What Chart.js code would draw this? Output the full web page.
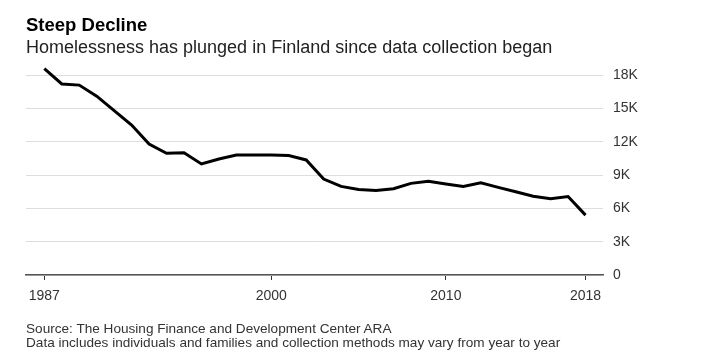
<!DOCTYPE html>
<html>
<head>
<meta charset="utf-8">
<script src="https://cdn.jsdelivr.net/npm/chart.js@4"></script>
<style>
  html, body { margin: 0; padding: 0; background: #fff; }
  body { width: 716px; height: 363px; position: relative; overflow: hidden; font-family: "Liberation Sans", Arial, sans-serif; }
  .t { position: absolute; left: 26px; white-space: nowrap; line-height: 1; }
  #title { top: 16px; font-size: 18.5px; font-weight: bold; color: #000; }
  #subtitle { top: 37.5px; font-size: 18px; color: #222; }
  #src1 { top: 322px; font-size: 13.6px; color: #333; }
  #src2 { top: 336px; font-size: 13.6px; color: #333; }
  #wrap { position: absolute; left: 0; top: 0; width: 716px; height: 363px; }
</style>
</head>
<body>
<div id="wrap"><canvas id="c" width="716" height="363"></canvas></div>
<div class="t" id="title">Steep Decline</div>
<div class="t" id="subtitle">Homelessness has plunged in Finland since data collection began</div>
<div class="t" id="src1">Source: The Housing Finance and Development Center ARA</div>
<div class="t" id="src2">Data includes individuals and families and collection methods may vary from year to year</div>
<script>
const years = [1987,1988,1989,1990,1991,1992,1993,1994,1995,1996,1997,1998,1999,2000,2001,2002,2003,2004,2005,2006,2007,2008,2009,2010,2011,2012,2013,2014,2015,2016,2017,2018];
const homeless = [18580,17200,17100,16100,14800,13500,11800,10960,11000,10000,10450,10800,10800,10800,10750,10360,8640,7980,7700,7600,7770,8250,8430,8190,7980,8310,7890,7500,7100,6870,7070,5390];
const xTicks = [1987,2000,2010,2018];
const yTicks = [0,3000,6000,9000,12000,15000,18000];
const yTickLabels = ['0','3K','6K','9K','12K','15K','18K'];

const points = years.map((y,i) => ({x: y, y: homeless[i]}));
const font = { family: '"Liberation Sans", Arial, sans-serif', size: 14 };

new Chart(document.getElementById('c'), {
  type: 'line',
  data: { datasets: [{ data: points, borderColor: '#000', borderWidth: 3, pointRadius: 0, tension: 0, fill: false, clip: false }] },
  options: {
    responsive: false,
    animation: false,
    events: [],
    layout: { padding: { left: 26, top: 64, right: 0, bottom: 0 } },
    plugins: { legend: { display: false }, tooltip: { enabled: false }, title: { display: false } },
    scales: {
      x: {
        type: 'linear', min: 1985.95, max: 2019.0,
        afterBuildTicks: s => { s.ticks = xTicks.map(v => ({ value: v })); },
        afterFit: s => { s.height = 88; },
        grid: { drawOnChartArea: false, drawTicks: true, tickLength: 5, tickColor: '#333', tickWidth: 1 },
        border: { display: true, color: '#555', width: 1.5 },
        ticks: { font, color: '#333', padding: 8, maxRotation: 0, autoSkip: false, callback: v => String(v) }
      },
      y: {
        position: 'right', min: 0, max: 19000,
        afterBuildTicks: s => { s.ticks = yTicks.map(v => ({ value: v })); },
        afterFit: s => { s.width = 113; },
        grid: { color: '#dddddd', lineWidth: 1, drawTicks: false },
        border: { display: false },
        ticks: { font, color: '#333', padding: 10, callback: (v) => yTickLabels[yTicks.indexOf(v)] }
      }
    }
  }
});
</script>
</body>
</html>
